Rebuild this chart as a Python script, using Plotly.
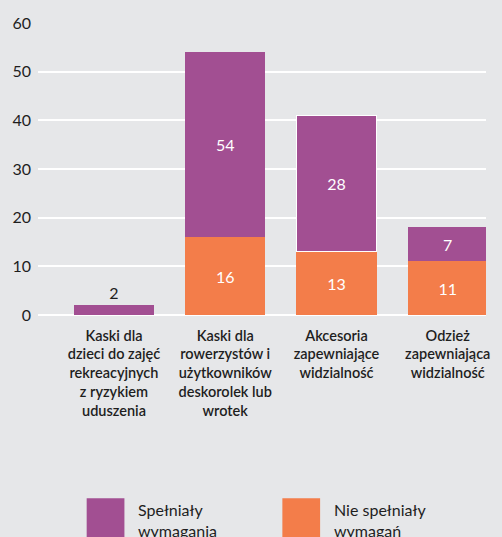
import plotly.graph_objects as go

categories = [
    "Kaski dla<br>dzieci do zajęć<br>rekreacyjnych<br>z ryzykiem<br>uduszenia",
    "Kaski dla<br>rowerzystów i<br>użytkowników<br>deskorolek lub<br>wrotek",
    "Akcesoria<br>zapewniające<br>widzialność",
    "Odzież<br>zapewniająca<br>widzialność",
]
series_names = ["Spełniały<br>wymagania", "Nie spełniały<br>wymagań"]
met_values = [2, 38, 28, 7]
met_labels = ["2", "54", "28", "7"]
not_met_values = [0, 16, 13, 11]
not_met_labels = ["", "16", "13", "11"]
y_ticks = [0, 10, 20, 30, 40, 50, 60]

PURPLE = "#a24f92"
ORANGE = "#f37d4a"
BG = "#e6e7e9"
TXT = "#1e1e1e"
FONT = "Lato"

x = list(range(len(categories)))

fig = go.Figure()
fig.add_trace(go.Bar(
    x=x, y=not_met_values, name=series_names[1], marker_color=ORANGE,
    marker_line_width=0, width=0.723,
    text=not_met_labels, textposition="inside", insidetextanchor="middle",
    textfont=dict(color="white", size=16, family=FONT), cliponaxis=False,
))
fig.add_trace(go.Bar(
    x=x, y=met_values, name=series_names[0], marker_color=PURPLE,
    marker_line=dict(color="white", width=[0, 0, 1, 0]), width=0.723,
    text=met_labels, textposition=["outside", "inside", "inside", "inside"],
    insidetextanchor="middle",
    textfont=dict(color=["#1e1e1e", "white", "white", "white"], size=16, family=FONT),
    cliponaxis=False,
))

fig.update_layout(
    barmode="stack",
    width=502, height=537,
    margin=dict(l=38, r=13, t=23, b=222),
    paper_bgcolor=BG, plot_bgcolor=BG,
    showlegend=False,
    font=dict(family=FONT, color=TXT, size=16),
)
fig.update_xaxes(
    range=[-0.683, 3.344], tickmode="array", tickvals=x, ticktext=categories,
    tickfont=dict(size=14.5, family=FONT, color=TXT, weight=600),
    showgrid=False, showline=False, zeroline=False, ticks="", tickangle=0,
    ticklabelstandoff=10,
)
fig.update_yaxes(
    range=[0, 60], tickvals=y_ticks, showgrid=True, gridcolor="white", gridwidth=2,
    zeroline=True, zerolinecolor="white", zerolinewidth=2, showline=False,
    tickfont=dict(size=16, family=FONT, color=TXT), ticks="", ticklabelstandoff=6,
)

# Custom legend (large squares, clipped at bottom like the reference)
legend_items = [(series_names[0], PURPLE, 87), (series_names[1], ORANGE, 284)]
for name, color, px in legend_items:
    fig.add_shape(type="rect", xref="paper", yref="paper",
                  x0=(px - 38) / 451, x1=(px + 38 - 38) / 451,
                  y0=(537 - 222 - 545) / 293, y1=(537 - 222 - 499) / 293,
                  fillcolor=color, line_width=0, layer="above")
    fig.add_annotation(xref="paper", yref="paper", x=(px + 50 - 38) / 451,
                       y=(537 - 222 - 499) / 293, text=name, showarrow=False,
                       xanchor="left", yanchor="top", align="left",
                       font=dict(size=16, family=FONT, color=TXT))

fig.write_html(
    "out.html",
    config={"displayModeBar": False},
    post_script="document.body.style.margin='0';document.body.style.overflow='hidden';",
)
